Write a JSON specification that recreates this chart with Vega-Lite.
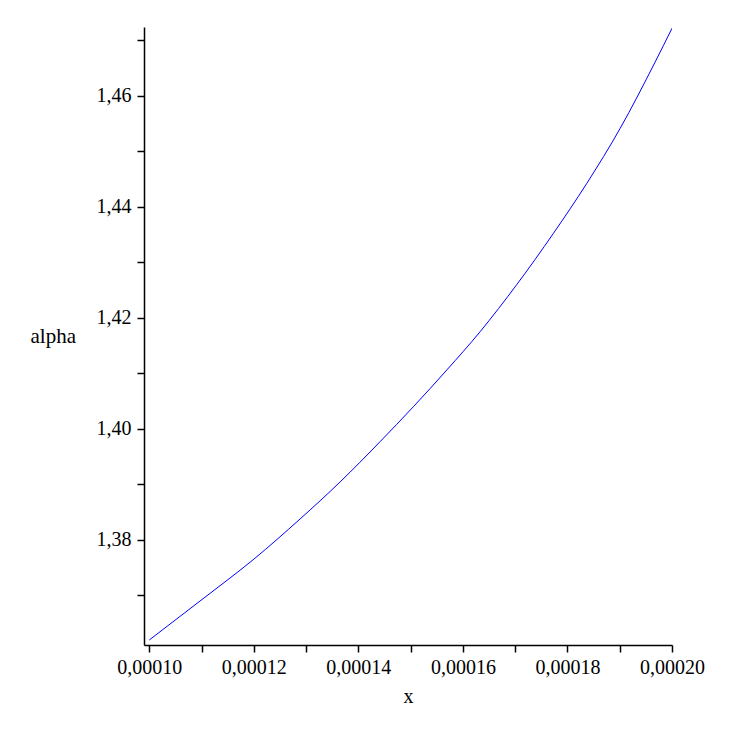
{
  "$schema": "https://vega.github.io/schema/vega-lite/v6.json",
  "autosize": {"type": "none"},
  "padding": {"left": 144, "top": 27, "right": 75, "bottom": 88},
  "width": 528,
  "height": 618,
  "background": "white",
  "config": {
    "view": {"stroke": null},
    "font": "Liberation Serif"
  },
  "data": {
    "values": [
      {"x": 0.0001, "alpha": 1.36198},
      {"x": 0.00011009, "alpha": 1.36928},
      {"x": 0.00012004, "alpha": 1.37658},
      {"x": 0.00012884, "alpha": 1.38378},
      {"x": 0.0001365, "alpha": 1.39045},
      {"x": 0.00014415, "alpha": 1.39771},
      {"x": 0.00015053, "alpha": 1.40402},
      {"x": 0.00015692, "alpha": 1.41063},
      {"x": 0.00016329, "alpha": 1.41753},
      {"x": 0.00017032, "alpha": 1.42604},
      {"x": 0.00017732, "alpha": 1.43526},
      {"x": 0.00018371, "alpha": 1.44427},
      {"x": 0.00019009, "alpha": 1.45418},
      {"x": 0.00019678, "alpha": 1.46613},
      {"x": 0.0002, "alpha": 1.4722}
    ]
  },
  "mark": {"type": "line", "color": "#0000ff", "strokeWidth": 1, "interpolate": "monotone", "clip": true},
  "encoding": {
    "x": {
      "field": "x",
      "type": "quantitative",
      "scale": {"domain": [0.00009899, 0.0002], "nice": false, "zero": false},
      "axis": {
        "title": "x",
        "titleFont": "Liberation Serif",
        "titleFontSize": 20,
        "titleFontWeight": "normal",
        "titleColor": "black",
        "titleX": 264,
        "titleY": 57,
        "titleBaseline": "alphabetic",
        "titleAlign": "center",
        "values": [0.0001, 0.00011, 0.00012, 0.00013, 0.00014, 0.00015, 0.00016, 0.00017, 0.00018, 0.00019, 0.0002],
        "labelExpr": "round(datum.value*100000) % 2 == 0 ? replace(format(datum.value, '.5f'), '.', ',') : ''",
        "labelFont": "Liberation Serif",
        "labelFontSize": 20,
        "labelColor": "black",
        "labelPadding": 5,
        "labelOverlap": false,
        "labelFlush": false,
        "grid": false,
        "domainColor": "black",
        "domainWidth": 1.5,
        "tickColor": "black",
        "tickWidth": 1.5,
        "tickSize": 7
      }
    },
    "y": {
      "field": "alpha",
      "type": "quantitative",
      "scale": {"domain": [1.36108, 1.47243], "nice": false, "zero": false},
      "axis": {
        "title": "alpha",
        "titleFont": "Liberation Serif",
        "titleFontSize": 21,
        "titleFontWeight": "normal",
        "titleColor": "black",
        "titleAngle": 0,
        "titleAlign": "left",
        "titleBaseline": "middle",
        "titleX": -114,
        "titleY": 309,
        "values": [1.37, 1.38, 1.39, 1.4, 1.41, 1.42, 1.43, 1.44, 1.45, 1.46, 1.47],
        "labelExpr": "round(datum.value*100) % 2 == 0 ? replace(format(datum.value, '.2f'), '.', ',') : ''",
        "labelFont": "Liberation Serif",
        "labelFontSize": 20,
        "labelColor": "black",
        "labelPadding": 6,
        "labelOverlap": false,
        "labelFlush": false,
        "grid": false,
        "domainColor": "black",
        "domainWidth": 1.5,
        "tickColor": "black",
        "tickWidth": 1.5,
        "tickSize": 7
      }
    }
  }
}
